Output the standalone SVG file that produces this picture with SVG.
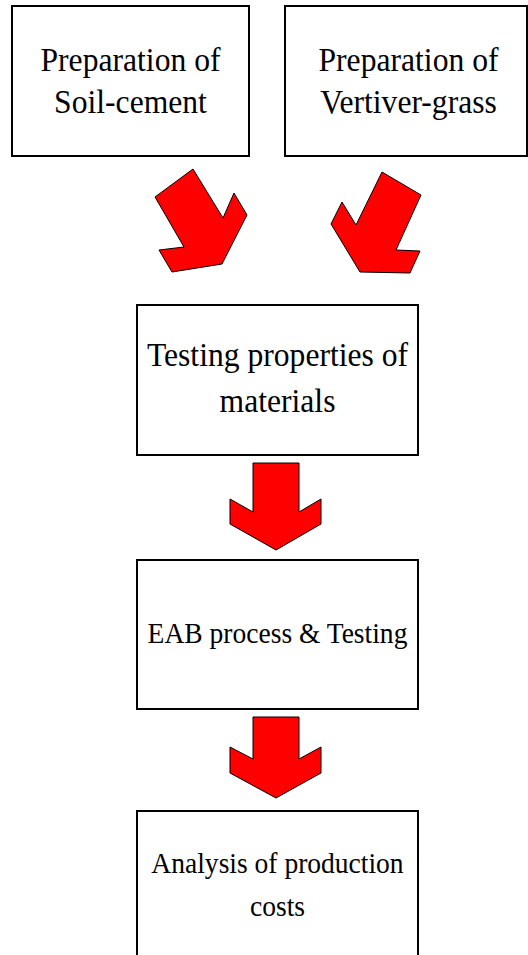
<svg xmlns="http://www.w3.org/2000/svg" width="528" height="955" viewBox="0 0 528 955">
  <style>
    .box { fill: #ffffff; stroke: #000000; stroke-width: 2; }
    .lbl { font-family: "Liberation Serif", "Times New Roman", serif; font-size: 34px; fill: #000000; text-anchor: middle; }
    .sm { font-size: 29.6px; }
    .arrow { fill: #ff0000; stroke: #000000; stroke-width: 1; stroke-linejoin: miter; }
  </style>
  <rect width="528" height="955" fill="#ffffff"/>

  <g id="prep-soil-cement">
    <rect class="box" x="12" y="6" width="237" height="150"/>
    <g transform="matrix(0.93 0 0 1 130.5 0)">
      <text class="lbl" x="0" y="71">Preparation of</text>
      <text class="lbl" x="0" y="113">Soil-cement</text>
    </g>
  </g>

  <g id="prep-vetiver-grass">
    <rect class="box" x="285" y="6" width="242" height="150"/>
    <g transform="matrix(0.93 0 0 1 408.5 0)">
      <text class="lbl" x="0" y="71">Preparation of</text>
      <text class="lbl" x="0" y="113">Vertiver-grass</text>
    </g>
  </g>

  <g id="testing-materials">
    <rect class="box" x="137" y="305" width="281" height="150"/>
    <g transform="matrix(0.93 0 0 1 277.5 0)">
      <text class="lbl" x="0" y="366">Testing properties of</text>
      <text class="lbl" x="0" y="412">materials</text>
    </g>
  </g>

  <g id="eab-process">
    <rect class="box" x="137" y="560" width="281" height="149"/>
    <g transform="matrix(0.93 0 0 1 277.5 0)">
      <text class="lbl sm" x="0" y="643">EAB process &amp; Testing</text>
    </g>
  </g>

  <g id="cost-analysis">
    <path class="box" d="M137,960 V811 H418 V960"/>
    <g transform="matrix(0.93 0 0 1 277.5 0)">
      <text class="lbl sm" x="0" y="873">Analysis of production</text>
      <text class="lbl sm" x="0" y="916">costs</text>
    </g>
  </g>

  <g id="connectors">
    <polygon class="arrow" points="155,197 193,169 223,218 234,193 247,215 222,264 172,272 159,250 184,247"/>
    <polygon class="arrow" points="382,172 421,195 396,250 420,251 410,273 360,272 331,224 342,202 356,225"/>
    <polygon class="arrow" points="253,463 299,463 299,512 321,499 321,524 276,550 230,524 230,499 253,512"/>
    <polygon class="arrow" points="253,717 299,717 299,759 321,747 321,773 276,798 230,773 230,747 253,759"/>
  </g>
</svg>
